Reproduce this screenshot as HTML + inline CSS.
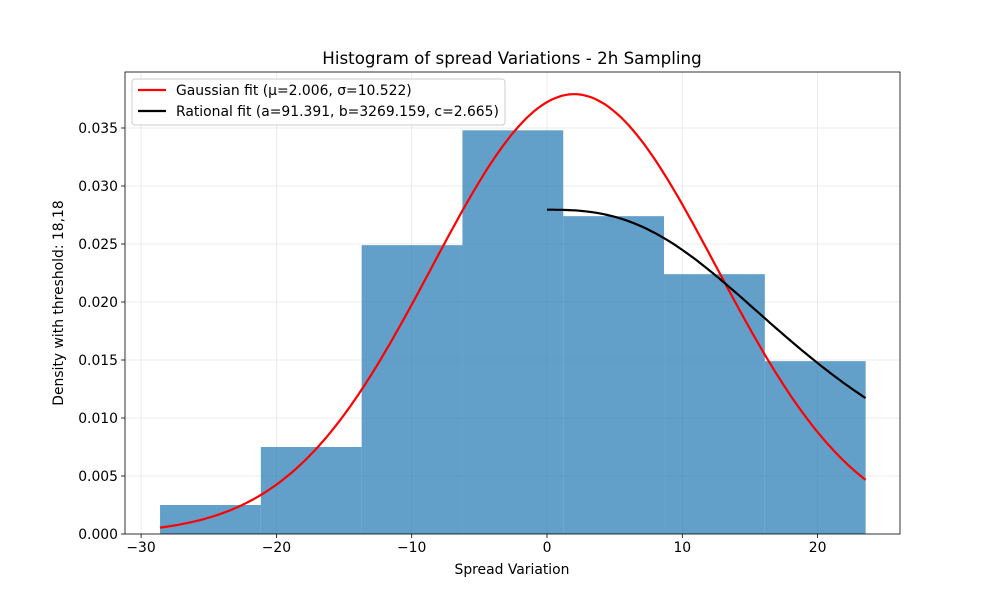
<!DOCTYPE html>
<html><head><meta charset="utf-8"><style>
body{margin:0;background:#fff;font-family:"Liberation Sans","DejaVu Sans",sans-serif}
svg text{font-family:"DejaVu Sans","Liberation Sans",sans-serif}
</style></head><body>
<svg id="chart" width="1000" height="600" xmlns="http://www.w3.org/2000/svg"></svg>
<script>
const binEdges=[-28.6,-21.15,-13.7,-6.25,1.2,8.65,16.1,23.55];
const binDensities=[0.0025,0.0075,0.0249,0.0348,0.0274,0.0224,0.0149];
const xTicks=[-30,-20,-10,0,10,20];
const yTicks=[0,0.005,0.010,0.015,0.020,0.025,0.030,0.035];
const gaussParams=[2.006,10.522];
const rationalParams=[91.391,3269.159,2.665];
const L=125,R=900,T=72,B=534;
const X=v=>547+v*13.53;
const Y=v=>534-v*11600;
const FS=13.9;
const svg=document.getElementById('chart');
const NS='http://www.w3.org/2000/svg';
function mk(t,a,p){const e=document.createElementNS(NS,t);for(const k in a)e.setAttribute(k,a[k]);(p||svg).appendChild(e);return e;}
xTicks.forEach(t=>{const g=mk('line',{x1:X(t),x2:X(t),y1:T,y2:B,stroke:'#b0b0b0','stroke-opacity':0.3,'stroke-width':0.8});

});
yTicks.forEach(t=>{const g=mk('line',{x1:L,x2:R,y1:Y(t),y2:Y(t),stroke:'#b0b0b0','stroke-opacity':0.3,'stroke-width':0.8});

});
binDensities.forEach((d,i)=>{const r=mk('rect',{x:X(binEdges[i]),y:Y(d),width:X(binEdges[i+1])-X(binEdges[i]),height:Y(0)-Y(d),fill:'#1f77b4','fill-opacity':0.7});

});
let pts=[];const [mu,sg]=gaussParams;
for(let i=0;i<=200;i++){const x=binEdges[0]+(binEdges[7]-binEdges[0])*i/200;const y=Math.exp(-0.5*((x-mu)/sg)**2)/(sg*Math.sqrt(2*Math.PI));pts.push(X(x).toFixed(1)+','+Y(y).toFixed(1));}
const g1=mk('polyline',{points:pts.join(' '),fill:'none',stroke:'#ff0000','stroke-width':2.2});


pts=[];const [a,b,c]=rationalParams;
for(let i=0;i<=100;i++){const x=binEdges[7]*i/100;const y=a/(b+Math.pow(x,c));pts.push(X(x).toFixed(1)+','+Y(y).toFixed(1));}
const g2=mk('polyline',{points:pts.join(' '),fill:'none',stroke:'#000','stroke-width':2.2});


const fr=mk('rect',{x:L,y:T,width:R-L,height:B-T,fill:'none',stroke:'#000','stroke-width':0.8});


xTicks.forEach(t=>{mk('line',{x1:X(t),x2:X(t),y1:B,y2:B+4,stroke:'#000','stroke-width':0.8});
const tx=mk('text',{x:X(t),y:B+18,'text-anchor':'middle','font-size':FS});tx.textContent=(t<0?'−'+(-t):t);

});
yTicks.forEach(t=>{mk('line',{x1:L-4,x2:L,y1:Y(t),y2:Y(t),stroke:'#000','stroke-width':0.8});
const tx=mk('text',{x:L-7,y:Y(t)+5,'text-anchor':'end','font-size':FS});tx.textContent=t.toFixed(3);

});
let t=mk('text',{x:512,y:64,'text-anchor':'middle','font-size':16.7});t.textContent='Histogram of spread Variations - 2h Sampling';

t=mk('text',{x:512,y:574,'text-anchor':'middle','font-size':FS});t.textContent='Spread Variation';

t=mk('text',{x:67,y:303,'text-anchor':'middle','font-size':FS,transform:'rotate(-90 67 303) translate(0 -4)'});t.textContent='Density with threshold: 18,18';

const lg=mk('g',{});
mk('rect',{x:132,y:79,width:373,height:46,rx:3,fill:'#fff','fill-opacity':0.8,stroke:'#ccc'},lg);
mk('line',{x1:138,x2:166,y1:90,y2:90,stroke:'#f00','stroke-width':2.2},lg);
t=mk('text',{x:176,y:95,'font-size':FS},lg);t.textContent='Gaussian fit (μ=2.006, σ=10.522)';

mk('line',{x1:138,x2:166,y1:111,y2:111,stroke:'#000','stroke-width':2.2},lg);
t=mk('text',{x:176,y:116,'font-size':FS},lg);t.textContent='Rational fit (a=91.391, b=3269.159, c=2.665)';

</script>
</body></html>
